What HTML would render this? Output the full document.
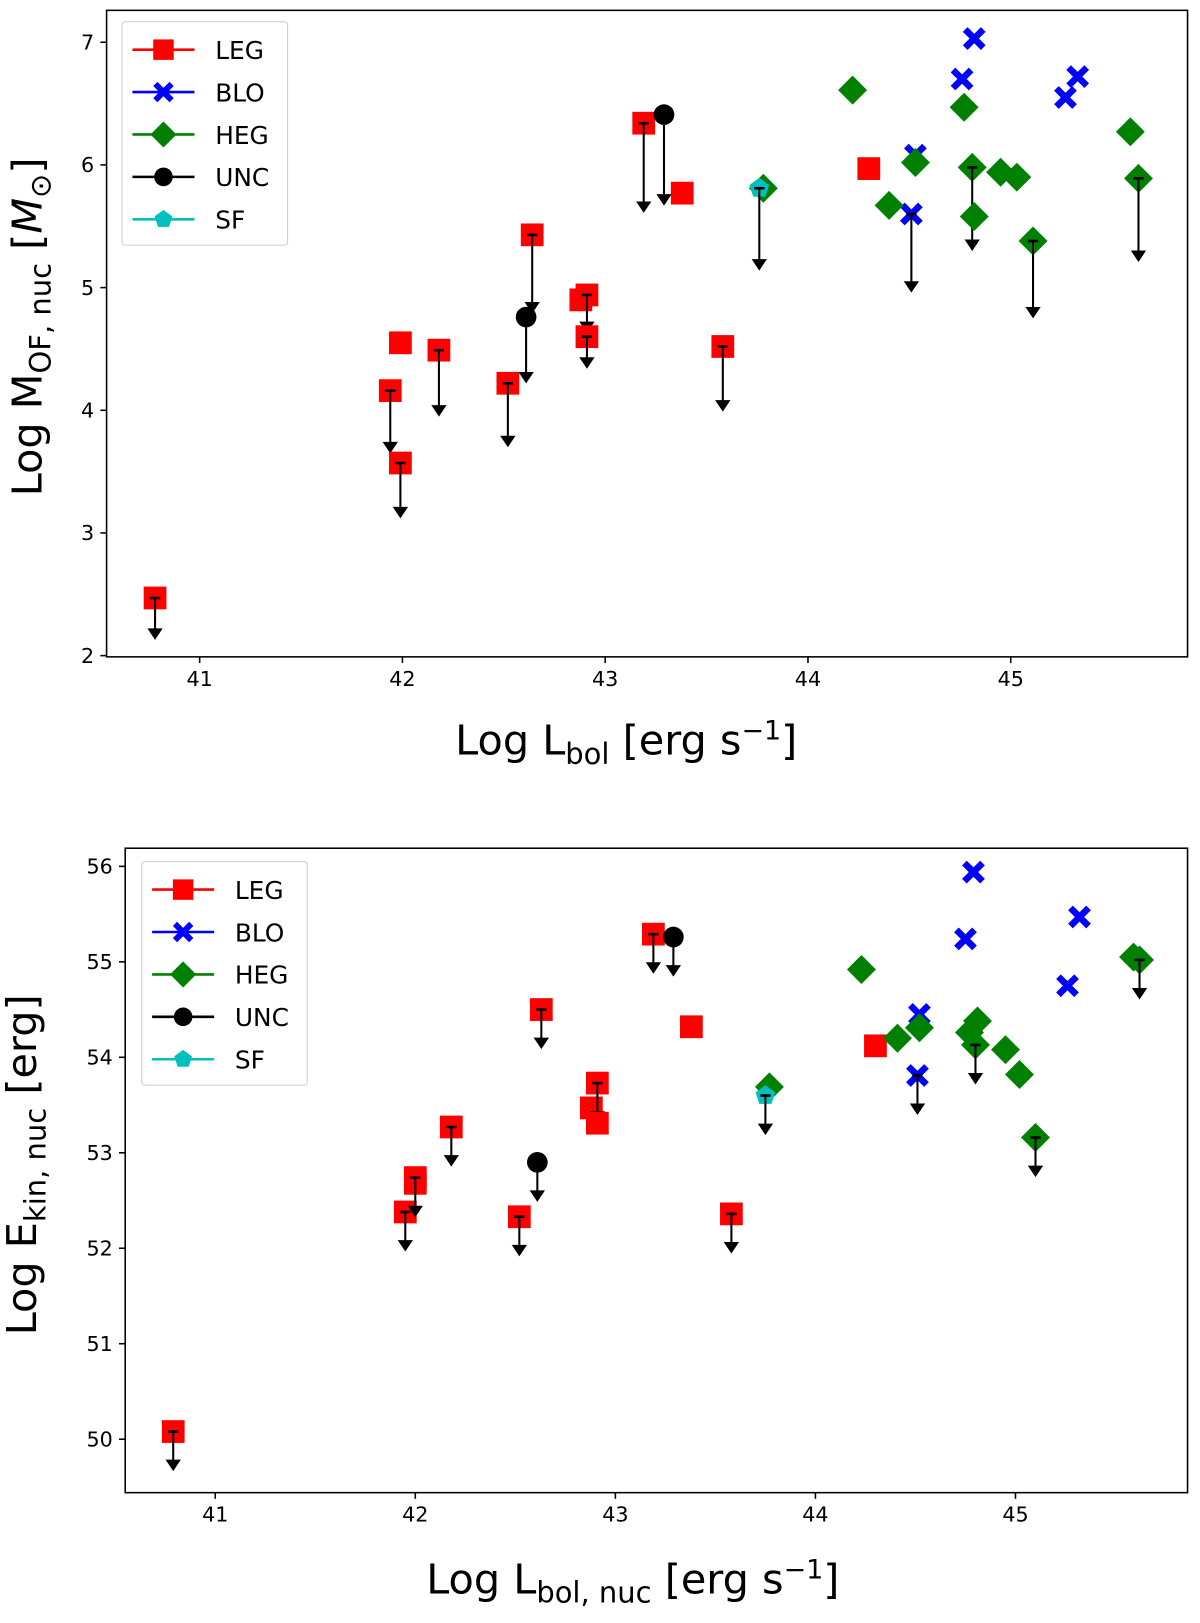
<!DOCTYPE html>
<html><head><meta charset="utf-8">
<style>
html,body{margin:0;padding:0;background:#fff;width:1200px;height:1623px;overflow:hidden;position:relative;}
svg{display:block;font-family:"DejaVu Sans","Liberation Sans",sans-serif;}
</style></head>
<body>
<svg id="chart" width="1200" height="1623" viewBox="0 0 1160 1569" xmlns="http://www.w3.org/2000/svg" style="position:absolute;left:0;top:0;"></svg>
<script>
// ---- Top panel data ----
const topX = {
 LEG:[40.78,41.94,41.99,41.99,42.18,42.52,42.64,42.88,42.91,42.91,43.19,43.38,43.58,44.30],
 BLO:[44.82,44.76,44.53,44.51,45.27,45.33],
 HEG:[44.22,44.77,44.53,44.81,44.95,45.03,44.40,44.82,45.11,45.59,45.63,43.78],
 UNC:[43.29,42.61],
 SF:[43.76]
};
const topY = {
 LEG:[2.47,4.16,4.55,3.57,4.49,4.22,5.43,4.90,4.94,4.60,6.34,5.77,4.52,5.97],
 BLO:[7.03,6.70,6.08,5.60,6.55,6.72],
 HEG:[6.61,6.47,6.02,5.98,5.94,5.90,5.67,5.58,5.38,6.27,5.89,5.81],
 UNC:[6.41,4.76],
 SF:[5.81]
};
const topLim = {
 LEG:[0.33,0.5,0,0.44,0.53,0.51,0.63,0,0.3,0.25,0.72,0,0.52,0],
 BLO:[0,0,0,0.63,0,0],
 HEG:[0,0,0,0.67,0,0,0,0,0.62,0,0.67,0],
 UNC:[0.73,0.53],
 SF:[0.66]
};
// ---- Bottom panel data ----
const botX = {
 LEG:[40.79,41.95,42.0,42.0,42.18,42.52,42.63,42.88,42.91,42.91,43.19,43.38,43.58,44.30],
 BLO:[44.79,44.75,44.52,44.51,45.26,45.32],
 HEG:[44.23,44.41,44.52,44.77,44.81,44.80,44.95,45.02,45.10,45.59,45.62,43.77],
 UNC:[43.29,42.61],
 SF:[43.75]
};
const botY = {
 LEG:[50.08,52.38,52.68,52.74,53.27,52.33,54.50,53.47,53.73,53.31,55.29,54.32,52.36,54.12],
 BLO:[55.94,55.24,54.45,53.81,54.75,55.47],
 HEG:[54.92,54.20,54.31,54.26,54.38,54.13,54.08,53.82,53.16,55.05,55.02,53.69],
 UNC:[55.26,52.90],
 SF:[53.60]
};
const botLim = {
 LEG:[0.4,0.4,0,0.4,0.4,0.4,0.4,0,0.4,0,0.4,0,0.4,0],
 BLO:[0,0,0,0.4,0,0],
 HEG:[0,0,0,0,0,0.4,0,0,0.4,0,0.4,0],
 UNC:[0.4,0.4],
 SF:[0.4]
};
const xTicks=[41,42,43,44,45];
const topYTicks=[2,3,4,5,6,7];
const botYTicks=[50,51,52,53,54,55,56];
const groups=['LEG','BLO','HEG','UNC','SF'];
const colors={LEG:'#ff0000',BLO:'#0000ff',HEG:'#008000',UNC:'#000000',SF:'#00bfbf'};

const NS='http://www.w3.org/2000/svg';
const svg=document.getElementById('chart');
function el(tag,attrs,parent){const e=document.createElementNS(NS,tag);for(const k in attrs)e.setAttribute(k,attrs[k]);(parent||svg).appendChild(e);return e;}

function marker(g,type,cx,cy,parent,s){
  s=s||1;const c=colors[type];let m;
  if(type==='LEG'){m=el('rect',{x:cx-11*s,y:cy-11*s,width:22*s,height:22*s,fill:c},parent);}
  else if(type==='BLO'){const a=11*s,b=4.5*s;
    m=el('path',{d:`M${cx-a} ${cy-a+b}L${cx-a+b} ${cy-a}L${cx} ${cy-b}L${cx+a-b} ${cy-a}L${cx+a} ${cy-a+b}L${cx+b} ${cy}L${cx+a} ${cy+a-b}L${cx+a-b} ${cy+a}L${cx} ${cy+b}L${cx-a+b} ${cy+a}L${cx-a} ${cy+a-b}L${cx-b} ${cy}Z`,fill:c},parent);}
  else if(type==='HEG'){const a=14*s;m=el('path',{d:`M${cx} ${cy-a}L${cx+a} ${cy}L${cx} ${cy+a}L${cx-a} ${cy}Z`,fill:c},parent);}
  else if(type==='UNC'){m=el('circle',{cx:cx,cy:cy,r:10*s,fill:c},parent);}
  else {let p=[];for(let i=0;i<5;i++){const an=-Math.PI/2+i*2*Math.PI/5;p.push((cx+10*s*Math.cos(an)).toFixed(1)+','+(cy+10*s*Math.sin(an)).toFixed(1));}
    m=el('polygon',{points:p.join(' '),fill:c},parent);}
  return m;
}

function panel(cfg){
  const {L,R,T,B,xmin,xmax,ymin,ymax,X,Y,Lim,yTicks,name,legX,legY}=cfg;
  const sx=v=>L+(v-xmin)/(xmax-xmin)*(R-L);
  const sy=v=>B-(v-ymin)/(ymax-ymin)*(B-T);
  const g=el('g',{});
  
  
  xTicks.forEach(t=>{
    el('line',{x1:sx(t),x2:sx(t),y1:B,y2:B+6,stroke:'#000','stroke-width':1.5},g);
    const tx=el('text',{x:sx(t),y:B+28,'font-size':20,'text-anchor':'middle'},g);tx.textContent=t;
    
    
  });
  yTicks.forEach(t=>{
    el('line',{x1:L-6,x2:L,y1:sy(t),y2:sy(t),stroke:'#000','stroke-width':1.5},g);
    const tx=el('text',{x:L-12,y:sy(t)+7,'font-size':20,'text-anchor':'end'},g);tx.textContent=t;
    
    
  });
  groups.forEach(k=>{
    const sg=el('g',{},g);
    
    
    X[k].forEach((xv,i)=>{
      const cx=sx(xv),cy=sy(Y[k][i]);
      const m=marker(sg,k,cx,cy,sg);
      
      
      if(Lim[k][i]>0){
        const ty=sy(Y[k][i]-Lim[k][i]);
        el('line',{x1:cx,x2:cx,y1:cy,y2:ty-4,stroke:'#000','stroke-width':2},sg);
        el('path',{d:`M${cx-6} ${ty-9}L${cx} ${ty}L${cx+6} ${ty-9}Z`,fill:'#000',stroke:'#000','stroke-width':1.5},sg);
        el('line',{x1:cx-5,x2:cx+5,y1:cy,y2:cy,stroke:'#000','stroke-width':2.5},sg);
      }
    });
  });
  el('rect',{x:L,y:T,width:R-L,height:B-T,fill:'none',stroke:'#000','stroke-width':1.5},g);
  const lg=el('g',{},g);
  
  
  el('rect',{x:legX,y:legY,width:160,height:216,rx:3,fill:'#fff',stroke:'#ccc','stroke-width':1},lg);
  groups.forEach((k,i)=>{
    const yy=legY+27+i*41;
    const e=el('g',{},lg);
    
    
    el('line',{x1:legX+10,x2:legX+70,y1:yy,y2:yy,stroke:colors[k],'stroke-width':2.5},e);
    marker(e,k,legX+40,yy,e,0.9);
    const t=el('text',{x:legX+90,y:yy+9,'font-size':24},e);t.textContent=k;
  });
}

panel({L:103,R:1148,T:10,B:635,xmin:40.541,xmax:45.872,ymin:1.99,ymax:7.26,X:topX,Y:topY,Lim:topLim,yTicks:topYTicks,name:'top-panel',legX:118,legY:21});
panel({L:121,R:1148,T:820,B:1443,xmin:40.55,xmax:45.86,ymin:49.44,ymax:56.19,X:botX,Y:botY,Lim:botLim,yTicks:botYTicks,name:'bottom-panel',legX:137,legY:833});
</script>
<div style="position:absolute;left:0;top:0;width:1160px;height:1569px;pointer-events:none;font-family:'DejaVu Sans','Liberation Sans',sans-serif;transform:scale(1.03448);transform-origin:0 0;">
  <div style="position:absolute;left:440px;top:692px;font-size:40px;white-space:nowrap;">Log L<sub style="font-size:28px">bol</sub> [erg s<sup style="font-size:26px">−1</sup>]</div>
  <div style="position:absolute;left:-170px;top:290px;width:400px;text-align:center;font-size:40px;white-space:nowrap;transform:rotate(-90deg);">Log M<sub style="font-size:28px">OF, nuc</sub> [<i>M</i><sub style="font-size:28px">⊙</sub>]</div>
  <div style="position:absolute;left:412px;top:1503px;font-size:40px;white-space:nowrap;">Log L<sub style="font-size:28px">bol, nuc</sub> [erg s<sup style="font-size:26px">−1</sup>]</div>
  <div style="position:absolute;left:-175px;top:1100px;width:400px;text-align:center;font-size:40px;white-space:nowrap;transform:rotate(-90deg);">Log E<sub style="font-size:28px">kin, nuc</sub> [erg]</div>
</div>
</body></html>
